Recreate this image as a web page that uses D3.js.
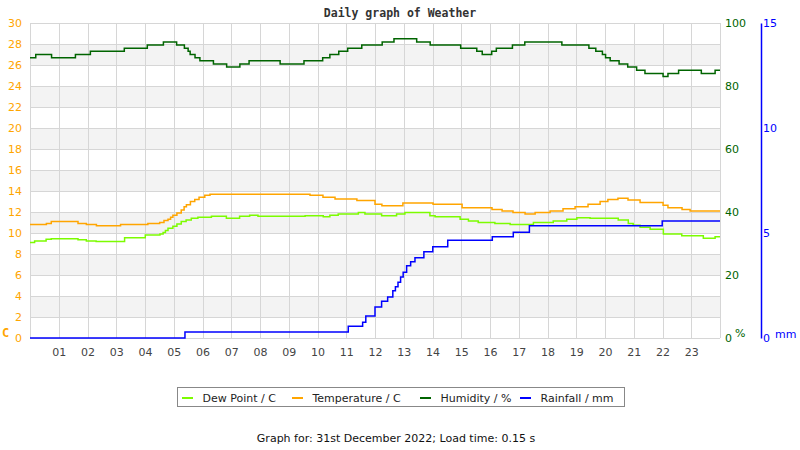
<!DOCTYPE html>
<html>
<head>
<meta charset="utf-8">
<script src="https://cdn.jsdelivr.net/npm/d3@7"></script>
<style>
  body { margin: 0; background: #fff; }
  svg { display: block; }
  text { font-family: "DejaVu Sans", sans-serif; }
</style>
</head>
<body>
<svg id="chart" width="800" height="450"></svg>
<script>
// ---- Data (hours of day, step values) ----
const hourTicks = [1,2,3,4,5,6,7,8,9,10,11,12,13,14,15,16,17,18,19,20,21,22,23];
const tempTicks = [0,2,4,6,8,10,12,14,16,18,20,22,24,26,28,30];
const humTicks = [0,20,40,60,80,100];
const rainTicks = [0,5,10,15];

const tempHours = [0,0.57,0.74,1.67,1.96,2.31,3.15,4.10,4.51,4.66,4.80,4.89,4.97,5.11,5.26,5.36,5.44,5.58,5.73,5.88,6.08,6.26,9.74,10.19,10.61,11.37,12.0,12.24,12.97,14.02,15.03,16.07,16.42,16.80,17.22,17.57,18.09,18.54,18.96,19.41,19.83,20.10,20.45,20.80,21.22,22.02,22.19,22.68,22.96,24];
const tempValues = [10.8,10.9,11.1,10.9,10.8,10.7,10.8,10.9,11.0,11.2,11.3,11.5,11.7,11.9,12.2,12.5,12.7,13.0,13.2,13.4,13.6,13.7,13.6,13.4,13.25,13.1,12.75,12.6,12.85,12.75,12.4,12.25,12.1,11.95,11.8,11.95,12.1,12.3,12.5,12.75,13.0,13.2,13.3,13.15,12.9,12.65,12.4,12.25,12.1,12.1];

const dewHours = [0,0.16,0.56,0.74,1.67,1.96,2.30,3.29,4.01,4.52,4.63,4.71,4.80,4.97,5.11,5.26,5.43,5.61,5.84,6.31,6.83,7.29,7.64,7.93,9.57,10.20,10.43,10.72,11.42,11.65,12.23,12.75,13.04,13.91,14.09,14.96,15.25,15.59,16.17,16.70,17.51,18.20,18.67,19.02,19.48,20.46,20.81,20.98,21.22,21.57,22.03,22.67,23.42,23.83,24];
const dewValues = [9.1,9.25,9.4,9.45,9.35,9.25,9.2,9.55,9.8,9.9,10.05,10.25,10.45,10.65,10.85,11.1,11.25,11.4,11.5,11.6,11.4,11.6,11.7,11.6,11.65,11.55,11.7,11.8,11.95,11.8,11.65,11.8,11.95,11.65,11.55,11.3,11.15,11.0,10.9,10.8,11.0,11.15,11.3,11.45,11.4,11.25,10.9,10.75,10.55,10.35,9.9,9.75,9.5,9.65,9.65];

const humHours = [0,0.20,0.75,1.58,2.10,3.28,4.08,4.64,5.10,5.37,5.50,5.57,5.74,5.91,6.38,6.84,7.30,7.62,8.70,9.53,10.18,10.43,10.74,11.05,11.54,12.25,12.66,13.45,13.92,14.98,15.54,15.73,16.06,16.22,16.78,17.21,18.50,19.44,19.68,19.91,20.02,20.18,20.49,20.79,21.10,21.39,22.02,22.19,22.56,23.35,23.83,24];
const humValues = [89,90,89,90,91,92,93,94,93,92,91,90,89,88,87,86,87,88,87,88,89,90,91,92,93,94,95,94,93,92,91,90,91,92,93,94,93,92,91,90,89,88,87,86,85,84,83,84,85,84,85,85];

const rainHours = [0,5.39,11.07,11.57,11.68,12.0,12.23,12.44,12.62,12.71,12.80,12.89,12.98,13.10,13.24,13.39,13.70,14.01,14.53,16.08,16.81,17.37,21.99,24];
const rainValues = [0,0.28,0.56,0.75,1.05,1.48,1.75,1.95,2.25,2.44,2.65,2.9,3.13,3.44,3.63,3.82,4.11,4.35,4.65,4.82,5.03,5.35,5.57,5.57];

const seriesNames = ["Dew Point / C","Temperature / C","Humidity / %","Rainfall / mm"];
const seriesColors = ["#7cfc00","#ffa500","#006400","#0000ff"];

// ---- Layout ----
const svg = d3.select("#chart");
const L = 30, R = 720, T = 23, B = 338;
const x = d3.scaleLinear().domain([0,24]).range([L,R]);
const yT = d3.scaleLinear().domain([0,30]).range([B,T]);
const yH = d3.scaleLinear().domain([0,100]).range([B,T]);
const yR = d3.scaleLinear().domain([0,15]).range([B,T]);

// shaded bands
const bands = tempTicks.filter(v => v % 4 === 2 && v < 30);
svg.append("g").selectAll("rect").data(bands).join("rect")
  .attr("x", L).attr("width", R - L)
  .attr("y", d => yT(d + 2)).attr("height", d => yT(d) - yT(d + 2))
  .attr("fill", "#f3f3f3");

// horizontal grid
svg.append("g").selectAll("line").data(tempTicks).join("line")
  .attr("x1", L).attr("x2", R)
  .attr("y1", d => Math.round(yT(d)) + 0.5).attr("y2", d => Math.round(yT(d)) + 0.5)
  .attr("stroke", "#d6d6d6");
// vertical grid
svg.append("g").selectAll("line").data([0].concat(hourTicks, [24])).join("line")
  .attr("x1", d => Math.round(x(d)) + 0.5).attr("x2", d => Math.round(x(d)) + 0.5)
  .attr("y1", T).attr("y2", B)
  .attr("stroke", "#d6d6d6");

// left axis labels
const gl = svg.append("g").attr("transform", `translate(${L},0)`)
  .call(d3.axisLeft(yT).tickValues(tempTicks).tickSize(0).tickPadding(8));
gl.select(".domain").remove();
gl.selectAll("text").attr("fill", "#ffa500").style("font-size", "11px")
  .style("font-family", "DejaVu Sans, sans-serif");

// x axis labels
const gx = svg.append("g").attr("transform", `translate(0,${B})`)
  .call(d3.axisBottom(x).tickValues(hourTicks).tickFormat(d3.format("02d")).tickSize(0).tickPadding(10));
gx.select(".domain").remove();
gx.selectAll("text").attr("fill", "#444").style("font-size", "11px")
  .style("font-family", "DejaVu Sans, sans-serif");

// humidity axis labels
const gh = svg.append("g").attr("transform", `translate(${R},0)`)
  .call(d3.axisRight(yH).tickValues(humTicks).tickSize(0).tickPadding(5));
gh.select(".domain").remove();
gh.selectAll("text").attr("fill", "#006400").style("font-size", "11px")
  .style("font-family", "DejaVu Sans, sans-serif");

// rain axis
const gr = svg.append("g").attr("transform", `translate(761,0)`)
  .call(d3.axisRight(yR).tickValues(rainTicks).tickSize(0).tickPadding(2));
gr.select(".domain").attr("stroke", "#0000ff").attr("stroke-width", 1.5);
gr.selectAll("text").attr("fill", "#0000ff").style("font-size", "11px")
  .style("font-family", "DejaVu Sans, sans-serif");

// unit labels
svg.append("text").attr("x", 2).attr("y", 337).text("C")
  .attr("fill", "#ffa500").style("font-family", "DejaVu Sans Mono, monospace")
  .style("font-weight", "bold").style("font-size", "12px");
svg.append("text").attr("x", 735).attr("y", 337).text("%")
  .attr("fill", "#006400").style("font-size", "11px");
svg.append("text").attr("x", 775).attr("y", 338).text("mm")
  .attr("fill", "#0000ff").style("font-size", "11px");

// title
svg.append("text").attr("x", 400).attr("y", 17).attr("text-anchor", "middle")
  .text("Daily graph of Weather").attr("fill", "#333")
  .style("font-family", "DejaVu Sans Mono, monospace").style("font-weight", "bold").style("font-size", "11.5px");

// lines
function stepLine(hours, vals, yScale) {
  return d3.line().x((d,i) => x(hours[i])).y((d) => yScale(d)).curve(d3.curveStepAfter)(vals);
}
const lines = [
  [dewHours, dewValues, yT],
  [tempHours, tempValues, yT],
  [humHours, humValues, yH],
  [rainHours, rainValues, yR]
];
lines.forEach((s, i) => {
  svg.append("path").attr("d", stepLine(s[0], s[1], s[2]))
    .attr("fill", "none").attr("stroke", seriesColors[i]).attr("stroke-width", 1.5);
});

// legend
svg.append("rect").attr("x", 177.5).attr("y", 387.5).attr("width", 447).attr("height", 19)
  .attr("fill", "#fff").attr("stroke", "#888");
const legendX = [182, 292, 420, 520];
seriesNames.forEach((n, i) => {
  svg.append("line").attr("x1", legendX[i]).attr("x2", legendX[i] + 11)
    .attr("y1", 398).attr("y2", 398).attr("stroke", seriesColors[i]).attr("stroke-width", 2);
  svg.append("text").attr("x", legendX[i] + 20.5).attr("y", 401.5).text(n)
    .attr("fill", "#222").style("font-size", "11px");
});

// footer
svg.append("text").attr("x", 396).attr("y", 442).attr("text-anchor", "middle")
  .text("Graph for: 31st December 2022; Load time: 0.15 s")
  .attr("fill", "#111").style("font-size", "11px");
</script>
</body>
</html>
